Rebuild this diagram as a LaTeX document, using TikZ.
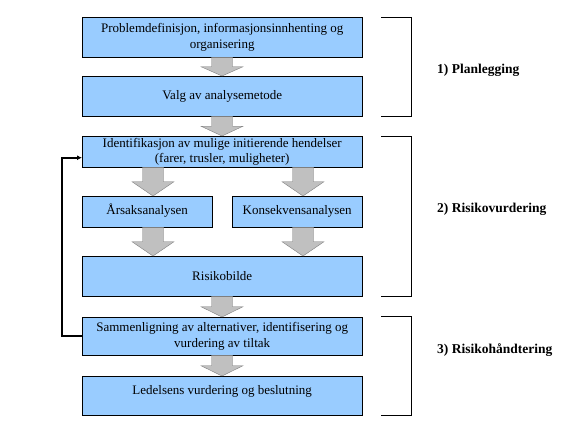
\documentclass[tikz,border=0pt]{standalone}
\usepackage{fontspec}
\setmainfont{Liberation Serif}
\usetikzlibrary{calc,arrows.meta}
\definecolor{boxblue}{RGB}{153,204,255}
\definecolor{arrgray}{RGB}{192,192,192}
\tikzset{
  box/.style={draw, fill=boxblue, anchor=north west, minimum width=280pt,
    align=center, inner sep=0pt, font=\fontsize{13}{15.5}\selectfont},
  halfbox/.style={box, minimum width=130pt},
  phase/.style={anchor=west, inner sep=0pt, font=\bfseries\fontsize{13.5}{14}\selectfont},
  feedback/.style={line width=2.2pt, -{Latex[length=5pt,width=5pt]}},
  blockarr/.style={fill=arrgray, draw=gray, thin}
}
% block arrow: x position, from node, to node
\newcommand\blockarr[3]{%
  \path[blockarr] let \p1=(#2.south), \p2=(#3.north) in
    ({#1pt-10.5pt},\y1) -- ({#1pt+10.5pt},\y1) -- ({#1pt+10.5pt},{(\y1+\y2)/2})
    -- ({#1pt+21pt},{(\y1+\y2)/2}) -- ({#1pt},\y2) -- ({#1pt-21pt},{(\y1+\y2)/2})
    -- ({#1pt-10.5pt},{(\y1+\y2)/2}) -- cycle;
}
\begin{document}
\begin{tikzpicture}[x=1pt, y=-1pt]
  \useasboundingbox (0,0) rectangle (585,437);

  % the boxes
  \node[box, minimum height=40pt] (prob) at (82,17) {Problemdefinisjon, informasjonsinnhenting og\\organisering};
  \node[box, minimum height=40pt] (valg) at (82,76) {Valg av analysemetode};
  \node[box, minimum height=31pt] (ident) at (82,136) {Identifikasjon av mulige initierende hendelser\\(farer, trusler, muligheter)};
  \node[halfbox, text height=18pt, text depth=13pt] (arsak) at (82,196) {Årsaksanalysen};
  \node[halfbox, text height=18pt, text depth=13pt] (kons) at (232,196) {Konsekvensanalysen};
  \node[box, minimum height=40pt] (risiko) at (82,256) {Risikobilde};
  \node[box, minimum height=38pt] (samm) at (82,317) {Sammenligning av alternativer, identifisering og\\vurdering av tiltak};
  \node[box, text height=18pt, text depth=21pt] (led) at (82,376) {Ledelsens vurdering og beslutning};

  % the block arrows
  \blockarr{222}{prob}{valg}
  \blockarr{222}{valg}{ident}
  \blockarr{153}{ident}{arsak}
  \blockarr{303}{ident}{kons}
  \blockarr{153}{arsak}{risiko}
  \blockarr{303}{kons}{risiko}
  \blockarr{222}{risiko}{samm}
  \blockarr{222}{samm}{led}

  % feedback loop
  \draw[feedback] (samm.west) -- ++(-20,0) |- ($(ident.west)+(0,6)$);

  % the brackets
  \draw (381,17) -- (411,17) -- (411,116) -- (381,116);
  \draw (381,136) -- (411,136) -- (411,296) -- (381,296);
  \draw (381,316) -- (411,316) -- (411,415) -- (381,415);

  % the phases
  \node[phase] (plan) at (437,70) {1) Planlegging};
  \node[phase] (vurd) at (437,209) {2) Risikovurdering};
  \node[phase] (hand) at (437,350) {3) Risikohåndtering};
\end{tikzpicture}
\end{document}
